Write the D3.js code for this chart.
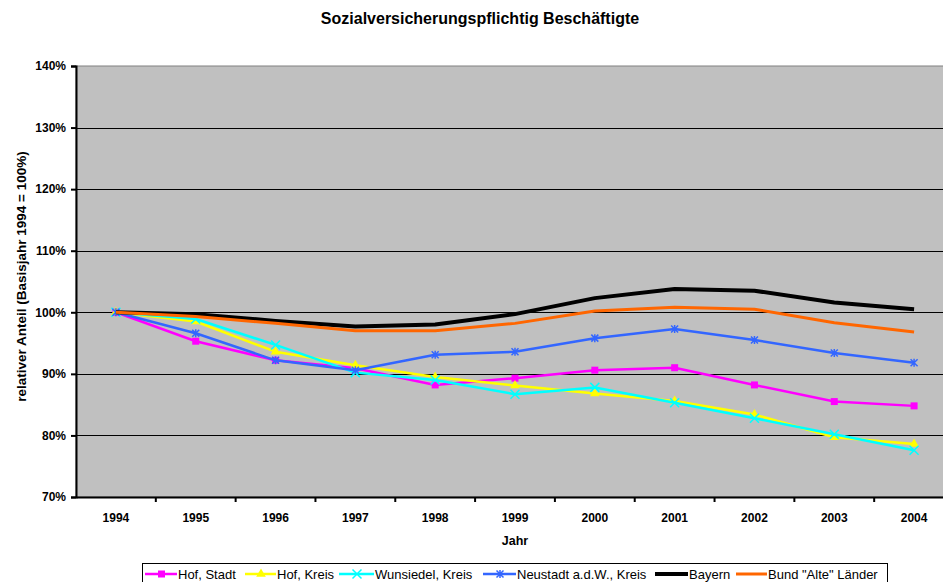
<!DOCTYPE html>
<html>
<head>
<meta charset="utf-8">
<script src="https://cdn.jsdelivr.net/npm/d3@7"></script>
<style>
  body { margin: 0; background: #fff; }
  svg { display: block; font-family: "Liberation Sans", Arial, sans-serif; }
</style>
</head>
<body>
<svg id="chart" width="943" height="582"></svg>
<script>
var years = ["1994", "1995", "1996", "1997", "1998", "1999", "2000", "2001", "2002", "2003", "2004"]
var yTicks = [70, 80, 90, 100, 110, 120, 130, 140]

var hofStadt  = [100, 95.3, 92.2, 90.9, 88.2, 89.3, 90.6, 91.0, 88.2, 85.5, 84.8]
var hofKreis  = [100, 98.5, 93.6, 91.4, 89.5, 88.1, 86.8, 85.6, 83.4, 79.7, 78.6]
var wunsiedel = [100, 98.9, 94.7, 90.2, 89.0, 86.7, 87.8, 85.3, 82.8, 80.2, 77.6]
var neustadt  = [100, 96.6, 92.2, 90.6, 93.1, 93.6, 95.8, 97.3, 95.5, 93.4, 91.8]
var bayern    = [100, 99.7, 98.6, 97.7, 98.0, 99.7, 102.3, 103.8, 103.5, 101.6, 100.5]
var bund      = [100, 99.3, 98.2, 97.0, 97.0, 98.2, 100.2, 100.8, 100.5, 98.3, 96.8]

var series = [
  {name: "Hof, Stadt", values: hofStadt, color: "#ff00ff", width: 2.5, marker: "square"},
  {name: "Hof, Kreis", values: hofKreis, color: "#ffff00", width: 2.5, marker: "triangle"},
  {name: "Wunsiedel, Kreis", values: wunsiedel, color: "#00ffff", width: 2.5, marker: "cross"},
  {name: "Neustadt a.d.W., Kreis", values: neustadt, color: "#3366ff", width: 2.5, marker: "star"},
  {name: "Bayern", values: bayern, color: "#000000", width: 4, marker: null},
  {name: "Bund \"Alte\" L\u00e4nder", values: bund, color: "#ff6600", width: 3, marker: null}
]

var svg = d3.select("#chart")
var plot = {left: 76, right: 954, top: 66, bottom: 497}

var x = d3.scaleBand().domain(years).range([plot.left, plot.right])
var y = d3.scaleLinear().domain([70, 140]).range([plot.bottom, plot.top])
var cx = function(yr) { return x(yr) + x.bandwidth() / 2 }

// title
svg.append("text")
  .attr("x", 480).attr("y", 24)
  .attr("text-anchor", "middle")
  .attr("font-size", 16).attr("font-weight", "bold")
  .text("Sozialversicherungspflichtig Besch\u00e4ftigte")

// plot background
svg.append("rect")
  .attr("x", plot.left).attr("y", plot.top)
  .attr("width", plot.right - plot.left).attr("height", plot.bottom - plot.top)
  .attr("fill", "#c0c0c0")
  .attr("stroke", "#808080").attr("stroke-width", 1)

// gridlines
svg.append("g")
  .selectAll("line")
  .data(yTicks.filter(function(t) { return t > 70 && t < 140 }))
  .join("line")
  .attr("x1", plot.left).attr("x2", plot.right)
  .attr("y1", function(d) { return Math.round(y(d)) + 0.5 })
  .attr("y2", function(d) { return Math.round(y(d)) + 0.5 })
  .attr("stroke", "#000").attr("stroke-width", 1)

// y axis
var yAxis = svg.append("g")
  .attr("transform", "translate(" + plot.left + ",0)")
  .call(d3.axisLeft(y).tickValues(yTicks).tickSize(5).tickPadding(5)
    .tickFormat(function(d) { return d + "%" }))
yAxis.select(".domain").attr("stroke", "#000").attr("stroke-width", 2)
yAxis.selectAll(".tick line").attr("stroke", "#000").attr("stroke-width", 2)
yAxis.selectAll(".tick text")
  .attr("font-family", "Liberation Sans, Arial, sans-serif")
  .attr("font-size", 12).attr("font-weight", "bold").attr("fill", "#000")

// x axis
var xAxis = svg.append("g")
  .attr("transform", "translate(0," + plot.bottom + ")")
  .call(d3.axisBottom(x).tickSize(0).tickPadding(16))
xAxis.select(".domain").attr("stroke", "#000").attr("stroke-width", 2)
xAxis.selectAll(".tick text")
  .attr("font-family", "Liberation Sans, Arial, sans-serif")
  .attr("font-size", 12).attr("font-weight", "bold").attr("fill", "#000")
xAxis.selectAll(".boundary")
  .data(years.slice(1))
  .join("line")
  .attr("class", "boundary")
  .attr("x1", function(d) { return x(d) }).attr("x2", function(d) { return x(d) })
  .attr("y1", 0).attr("y2", 5)
  .attr("stroke", "#000").attr("stroke-width", 2)

// axis titles
svg.append("text")
  .attr("x", 515).attr("y", 545)
  .attr("text-anchor", "middle")
  .attr("font-size", 12.5).attr("font-weight", "bold")
  .text("Jahr")

svg.append("text")
  .attr("transform", "translate(26," + ((plot.top + plot.bottom) / 2 - 5) + ") rotate(-90)")
  .attr("text-anchor", "middle")
  .attr("font-size", 13.5).attr("font-weight", "bold")
  .text("relativer Anteil (Basisjahr 1994 = 100%)")

// markers
function markerPath(type) {
  if (type === "square") return d3.symbol(d3.symbolSquare, 49)()
  if (type === "triangle") return d3.symbol(d3.symbolTriangle, 40)()
  if (type === "cross") return "M-4.5,-4.5L4.5,4.5M-4.5,4.5L4.5,-4.5"
  if (type === "star") return "M-3.5,-3.5L3.5,3.5M-3.5,3.5L3.5,-3.5M0,-4L0,4"
  return null
}

var line = d3.line()
  .x(function(d, i) { return cx(years[i]) })
  .y(function(d) { return y(d) })

var gSeries = svg.append("g")
series.forEach(function(s) {
  var g = gSeries.append("g")
  g.append("path")
    .attr("d", line(s.values))
    .attr("fill", "none")
    .attr("stroke", s.color)
    .attr("stroke-width", s.width)
    .attr("stroke-linejoin", "round")
  if (s.marker) {
    var filled = s.marker === "square" || s.marker === "triangle"
    g.selectAll(".m")
      .data(s.values)
      .join("path")
      .attr("class", "m")
      .attr("transform", function(d, i) { return "translate(" + cx(years[i]) + "," + y(d) + ")" })
      .attr("d", markerPath(s.marker))
      .attr("fill", filled ? s.color : "none")
      .attr("stroke", s.color)
      .attr("stroke-width", filled ? 0 : 1.5)
  }
})

// legend
var legendX = [145, 245, 339, 483, 655, 736]
var legendTextX = [178, 277, 375, 517, 689, 768]
var legend = svg.append("g")
legend.append("rect")
  .attr("x", 142.5).attr("y", 563.5)
  .attr("width", 745).attr("height", 22)
  .attr("fill", "#fff").attr("stroke", "#000").attr("stroke-width", 1)

series.forEach(function(s, i) {
  var lg = legend.append("g").attr("transform", "translate(" + legendX[i] + ",574)")
  lg.append("line")
    .attr("x1", 0).attr("x2", legendTextX[i] - legendX[i] - 1)
    .attr("stroke", s.color).attr("stroke-width", s.width)
  if (s.marker) {
    var filled = s.marker === "square" || s.marker === "triangle"
    lg.append("path")
      .attr("transform", "translate(" + ((legendTextX[i] - legendX[i]) / 2) + ",0)")
      .attr("d", markerPath(s.marker))
      .attr("fill", filled ? s.color : "none")
      .attr("stroke", s.color)
      .attr("stroke-width", filled ? 0 : 1.5)
  }
  legend.append("text")
    .attr("x", legendTextX[i]).attr("y", 578.5)
    .attr("font-size", 13)
    .text(s.name)
})
</script>
</body>
</html>
